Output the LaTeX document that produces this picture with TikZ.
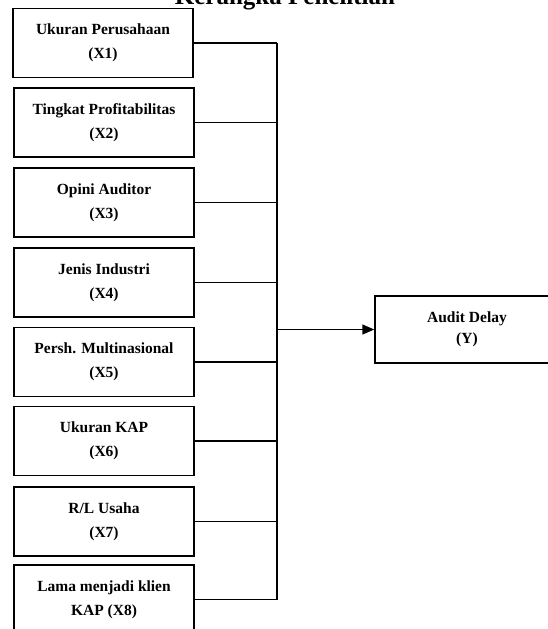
\documentclass[tikz,border=0pt]{standalone}
\usepackage{fontspec}
\setmainfont{Liberation Serif}
\usetikzlibrary{arrows.meta}
\tikzset{
  varbox/.style={draw, line width=1.5pt, minimum width=180pt, minimum height=69pt,
    align=center, inner sep=0pt, font=\bfseries\fontsize{15.5}{24}\selectfont},
  ybox/.style={draw, line width=1.5pt, minimum width=184pt, minimum height=67pt,
    align=center, inner sep=0pt, font=\bfseries\fontsize{15.5}{21}\selectfont},
  link/.style={line width=1.5pt},
  titletext/.style={font=\bfseries\fontsize{25}{30}\selectfont, inner sep=0pt, anchor=base}
}
\begin{document}
\begin{tikzpicture}[x=1pt,y=-1pt]
\useasboundingbox (0,0) rectangle (548,629);
\clip (0,0) rectangle (548,629);
\node[titletext] (title) at (285,5) {Kerangka Penelitian};
\node[varbox] (x1) at (103,43) {Ukuran Perusahaan\\(X1)};
\node[varbox] (x2) at (104,122.5) {Tingkat Profitabilitas\\(X2)};
\node[varbox] (x3) at (104,202.5) {Opini Auditor\\(X3)};
\node[varbox] (x4) at (104,282.5) {Jenis Industri\\(X4)};
\node[varbox] (x5) at (104,362) {Persh. Multinasional\\(X5)};
\node[varbox] (x6) at (104,441) {Ukuran KAP\\(X6)};
\node[varbox] (x7) at (104,521.5) {R/L Usaha\\(X7)};
\node[varbox] (x8) at (104,599.5) {Lama menjadi klien\\KAP (X8)};
\node[ybox] (y) at (467,329.5) {Audit Delay\\(Y)};
\coordinate (bustop) at (277,43);
\coordinate (busbot) at (277,599.5);
\coordinate (busmid) at (277,329.5);
\draw[link] (bustop) -- (busbot);
\foreach \n in {x1,x2,x3,x4,x5,x6,x7,x8}{
  \draw[link] (\n.east) -- (\n.east -| bustop);
}
\draw[link, -{Triangle[length=12pt,width=10pt]}] (busmid) -- (y.west);
\end{tikzpicture}
\end{document}
